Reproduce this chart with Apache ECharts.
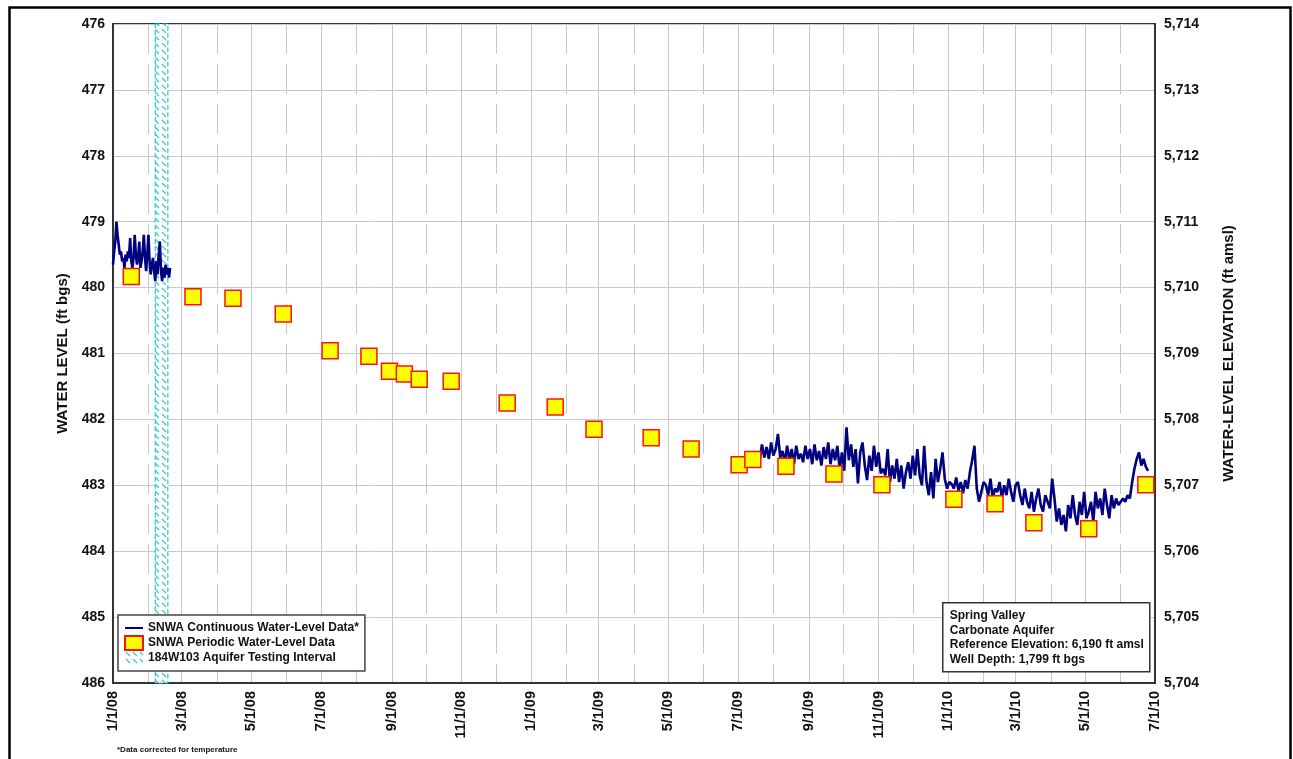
<!DOCTYPE html>
<html><head><meta charset="utf-8">
<script src="https://cdn.jsdelivr.net/npm/echarts@6/dist/echarts.min.js"></script>
<style>html,body{margin:0;padding:0;background:#fff}#c{width:1293px;height:759px}</style>
</head><body><div id="c"></div>
<script>
// ---- data ----
var axisStart = '2008-01-01';
var axisEnd = '2010-07-01';
var leftTicks = [476, 477, 478, 479, 480, 481, 482, 483, 484, 485, 486];
var refElevation = 6190;

var periodicDates = ['2008-01-17','2008-03-11','2008-04-15','2008-05-29','2008-07-09','2008-08-12','2008-08-30','2008-09-12','2008-09-25','2008-10-23','2008-12-11','2009-01-22','2009-02-25','2009-04-16','2009-05-21','2009-07-02','2009-07-14','2009-08-12','2009-09-23','2009-11-04','2010-01-06','2010-02-11','2010-03-17','2010-05-04','2010-06-23'];
var periodicValues = [479.83,480.14,480.16,480.40,480.96,481.04,481.27,481.31,481.39,481.42,481.75,481.81,482.15,482.28,482.45,482.69,482.61,482.71,482.83,482.99,483.21,483.28,483.57,483.66,482.99];

var cont1Start = '2008-01-01', cont1StepDays = 1;
var cont1Values = [479.65,479.45,479.3,479.0,479.2,479.35,479.5,479.45,479.6,479.55,479.7,479.5,479.6,479.45,479.55,479.25,479.6,479.7,479.55,479.2,479.5,479.65,479.55,479.3,479.7,479.6,479.45,479.2,479.55,479.75,479.5,479.2,479.6,479.8,479.65,479.55,479.75,479.9,479.6,479.8,479.5,479.3,479.75,479.9,479.7,479.85,479.65,479.8,479.7,479.85,479.7];

var cont2Start = '2009-07-16', cont2StepDays = 2;
var cont2Values = [482.68,482.5,482.62,482.38,482.58,482.42,482.6,482.35,482.55,482.45,482.22,482.58,
482.48,482.65,482.4,482.62,482.45,482.68,482.4,482.6,482.52,
482.65,482.4,482.6,482.45,482.68,482.38,482.62,482.48,482.7,482.42,482.6,482.35,482.68,482.45,482.62,482.4,482.75,482.5,482.78,482.12,
482.62,482.38,482.72,482.45,482.97,482.5,482.35,482.7,482.92,482.55,482.78,482.4,482.72,482.5,482.82,
482.75,482.85,482.45,482.95,482.7,482.9,482.6,482.95,482.7,483.05,482.8,482.65,482.9,482.55,482.85,
482.45,482.85,483.0,482.4,482.95,483.15,482.8,483.2,482.6,482.95,482.75,482.5,482.9,483.05,482.95,
482.98,483.05,482.88,483.08,482.95,483.12,482.92,483.05,482.8,482.62,482.4,483.05,483.25,483.1,482.95,
483.0,483.15,482.9,483.2,483.05,483.1,482.95,483.2,483.0,483.15,482.9,483.1,483.25,483.0,482.95,
483.15,483.3,483.05,483.25,483.35,483.1,483.4,483.2,483.05,483.3,483.4,483.15,483.25,483.35,482.9,
483.2,483.55,483.35,483.6,483.45,483.7,483.3,483.5,483.15,483.45,483.6,483.25,483.45,483.1,483.5,
483.4,483.25,483.55,483.1,483.35,483.2,483.45,483.05,483.3,483.5,483.15,483.35,483.2,483.3,483.25,
483.2,483.25,483.15,483.2,482.95,482.75,482.6,482.5,482.7,482.6,482.72,482.78];

var testStart = '2008-02-07', testEnd = '2008-02-18';

var seriesNames = ['SNWA Continuous Water-Level Data*','SNWA Periodic Water-Level Data','184W103 Aquifer Testing Interval'];
var infoLines = ['Spring Valley','Carbonate Aquifer','Reference Elevation: 6,190 ft amsl','Well Depth: 1,799 ft bgs'];
var footnote = '*Data corrected for temperature';

// ---- helpers ----
function utc(s){var p=s.split('-');return Date.UTC(+p[0],+p[1]-1,+p[2]);}
var t0 = utc(axisStart);
function dayIdx(s){return Math.round((utc(s)-t0)/86400000);}
var nDays = dayIdx(axisEnd);
var cats = [];
for (var i=0;i<=nDays;i++){var d=new Date(t0+i*86400000);cats.push(d.getUTCFullYear()+'-'+(d.getUTCMonth()+1)+'-'+d.getUTCDate());}
function isMonthStart(v, odd){var p=v.split('-');return p[2]==='1' && ((+p[1])%2===(odd?1:0));}
function fmtLabel(v){var p=v.split('-');return p[1]+'/'+p[2]+'/'+p[0].slice(2);}

var periodic = periodicDates.map(function(d,i){return [dayIdx(d), periodicValues[i]];});
var c1 = cont1Values.map(function(v,i){return [dayIdx(cont1Start)+i*cont1StepDays, v];});
var c2 = cont2Values.map(function(v,i){return [dayIdx(cont2Start)+i*cont2StepDays, v];});

// hatch pattern
var pc = document.createElement('canvas'); pc.width=7; pc.height=7;
var g = pc.getContext('2d'); g.fillStyle='#ffffff'; g.fillRect(0,0,7,7);
g.strokeStyle='#2ec8c8'; g.lineWidth=1.1; g.beginPath(); g.moveTo(1,1); g.lineTo(5,5); g.stroke();
var hatch = {image: pc, repeat: 'repeat'};

var font = '"Liberation Sans", Arial, sans-serif';
var chart = echarts.init(document.getElementById('c'), null, {renderer:'canvas'});
chart.setOption({
  animation:false,
  backgroundColor:'#fff',
  textStyle:{fontFamily:font},
  grid:{left:113, right:138, top:24, bottom:76, show:true, borderColor:'#333', borderWidth:2, containLabel:false},
  legend:{
    left:118, top:615, orient:'vertical', itemWidth:18, itemHeight:14, itemGap:0,
    backgroundColor:'#fff', borderColor:'#444', borderWidth:1.5, padding:[6,6,6,6],
    textStyle:{fontFamily:font, fontWeight:'bold', fontSize:12, color:'#111'},
    data:[
      {name:seriesNames[0], icon:'path://M0,0 M0,6 L18,6 L18,8 L0,8 Z M18,14', itemStyle:{color:'#000080'}},
      {name:seriesNames[1], icon:'rect'},
      {name:seriesNames[2], icon:'rect', itemStyle:{color:hatch, borderWidth:0}}
    ]
  },
  xAxis:[
    {type:'category', data:cats, boundaryGap:false,
     axisLine:{show:true, lineStyle:{color:'#333', width:2}},
     axisTick:{show:false},
     axisLabel:{interval:function(i,v){return isMonthStart(v,true);}, rotate:90, formatter:fmtLabel,
       fontFamily:font, fontWeight:'bold', fontSize:14.5, color:'#111', margin:8},
     splitLine:{show:true, interval:function(i,v){return isMonthStart(v,true);}, lineStyle:{color:'#c8c8c8', width:1}}},
    {type:'category', data:cats, boundaryGap:false, position:'bottom',
     axisLine:{show:false}, axisTick:{show:false}, axisLabel:{show:false},
     splitLine:{show:true, interval:function(i,v){return isMonthStart(v,false);}, lineStyle:{color:'#c8c8c8', width:1, type:[30,10]}}}
  ],
  yAxis:[
    {type:'value', inverse:true, min:leftTicks[0], max:leftTicks[leftTicks.length-1], interval:1,
     name:'WATER LEVEL (ft bgs)', nameLocation:'middle', nameRotate:90, nameGap:43,
     nameTextStyle:{fontFamily:font, fontWeight:'bold', fontSize:15, color:'#111'},
     axisLine:{show:true, lineStyle:{color:'#333', width:2}}, axisTick:{show:false},
     axisLabel:{fontFamily:font, fontWeight:'bold', fontSize:14, color:'#111', margin:8},
     splitLine:{show:true, lineStyle:{color:'#c8c8c8', width:1}}},
    {type:'value', position:'right', min:refElevation-leftTicks[leftTicks.length-1], max:refElevation-leftTicks[0], interval:1,
     name:'WATER-LEVEL ELEVATION (ft amsl)', nameLocation:'middle', nameRotate:90, nameGap:66,
     nameTextStyle:{fontFamily:font, fontWeight:'bold', fontSize:15, color:'#111'},
     axisLine:{show:true, lineStyle:{color:'#333', width:2}}, axisTick:{show:false},
     axisLabel:{fontFamily:font, fontWeight:'bold', fontSize:14, color:'#111', margin:9,
       formatter:function(v){return v.toLocaleString('en-US');}},
     splitLine:{show:false}}
  ],
  series:[
    {name:seriesNames[2], type:'line', data:[], itemStyle:{color:'#33c9c9'}, z:1,
     markArea:{silent:true, itemStyle:{color:hatch, borderColor:'#2ec8c8', borderWidth:1.2, borderType:'dashed'},
       data:[[{xAxis:cats[dayIdx(testStart)]},{xAxis:cats[dayIdx(testEnd)]}]]}},
    {name:seriesNames[0], type:'line', data:c1, symbol:'none', lineStyle:{color:'#000080', width:2.6}, itemStyle:{color:'#000080'}, z:3},
    {name:seriesNames[0], type:'line', data:c2, symbol:'none', lineStyle:{color:'#000080', width:2.6}, itemStyle:{color:'#000080'}, z:3},
    {name:seriesNames[1], type:'scatter', data:periodic, symbol:'rect', symbolSize:16,
     itemStyle:{color:'#ffff00', borderColor:'#ff1010', borderWidth:1.5, opacity:1}, z:5}
  ],
  graphic:[
    {type:'rect', left:7, top:5, z:100, shape:{width:1281, height:770}, style:{fill:null, stroke:'#000', lineWidth:2.5}, silent:true},
    {type:'group', left:942, top:602, z:100, children:[
      {type:'rect', z:100, shape:{x:0,y:0,width:207,height:69}, style:{fill:'#fff', stroke:'#333', lineWidth:1.5}},
      {type:'text', z:101, x:7, y:6, style:{text:infoLines.join('\n'), font:'bold 12px '+font, fill:'#111', lineHeight:14.5}}
    ]},
    {type:'text', left:117, top:746, z:100, style:{text:footnote, font:'bold 8px '+font, fill:'#111'}}
  ]
});
</script></body></html>
